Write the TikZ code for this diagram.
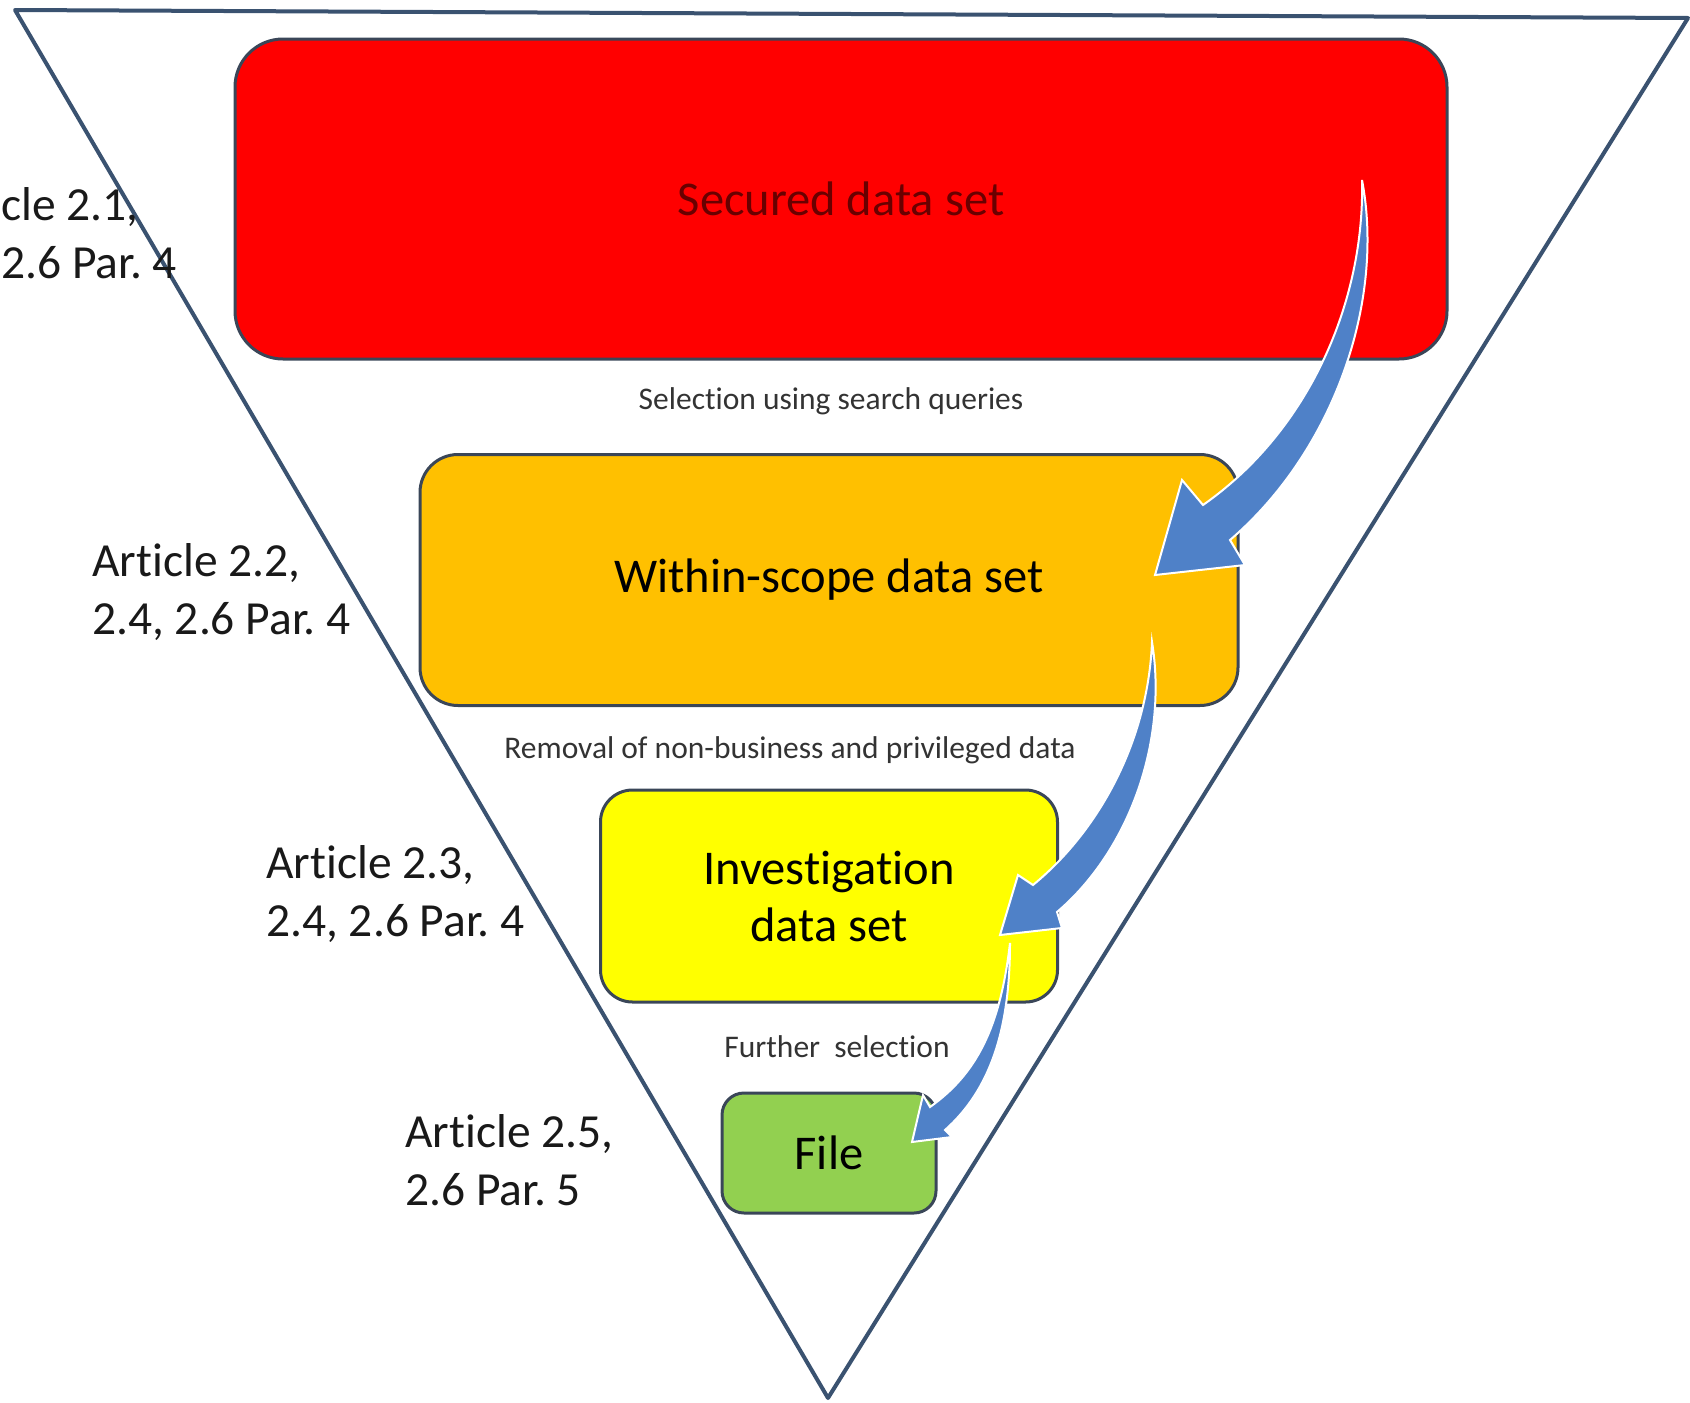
\documentclass[tikz,border=0pt]{standalone}
\usepackage{fontspec}
\setmainfont{Carlito}[Ligatures=NoCommon]
\usetikzlibrary{positioning}
\frenchspacing

\definecolor{securedred}{RGB}{255,0,0}
\definecolor{securedtext}{RGB}{105,0,0}
\definecolor{scopeorange}{RGB}{255,192,0}
\definecolor{investyellow}{RGB}{255,255,0}
\definecolor{filegreen}{RGB}{146,208,80}
\definecolor{boxline}{RGB}{58,70,88}
\definecolor{funnelline}{RGB}{58,82,112}
\definecolor{arrowblue}{RGB}{79,129,200}

\begin{document}
\begin{tikzpicture}[x=1pt,y=-1pt,
  stage/.style={draw=boxline,line width=3pt,align=center,font=\fontsize{48.5}{57}\selectfont},
  article/.style={anchor=west,align=left,inner sep=0pt,font=\fontsize{47.5}{58}\selectfont,text=black!90},
  filter/.style={font=\fontsize{31.5}{37}\selectfont,text=black!80},
  flow/.style={fill=arrowblue,draw=white,line width=2pt,line join=miter}]
\useasboundingbox (0,0) rectangle (1690,1403);

% Funnel
\draw[funnelline,line width=4pt,line join=round] (15,10) -- (1688,18) -- (828,1398) -- cycle;

% Data sets
\node[stage,fill=securedred,text=securedtext,minimum width=1212pt,minimum height=320pt,rounded corners=48pt] (secured) at (841,199) {Secured data set};
\node[stage,fill=scopeorange,minimum width=818pt,minimum height=251pt,rounded corners=38pt] (scope) at (829,580) {Within-scope data set};
\node[stage,fill=investyellow,minimum width=457pt,minimum height=212pt,rounded corners=32pt] (invest) at (829,896) {Investigation\\data set};
\node[stage,fill=filegreen,minimum width=214pt,minimum height=120pt,rounded corners=22pt] (file) at (829,1153) {File};

% Articles
\node[article] (art1) at (1,233) {cle 2.1,\\2.6 Par. 4};
\node[article] (art2) at (92,592) {Article 2.2,\\2.4, 2.6 Par. 4};
\node[article] (art3) at (266,894) {Article 2.3,\\2.4, 2.6 Par. 4};
\node[article] (art4) at (405,1160) {Article 2.5,\\2.6 Par. 5};

% Selection steps
\node[filter] (sel1) at (831,401) {Selection using search queries};
\node[filter] (sel2) at (790,750) {Removal of non-business and privileged data};
\node[filter] (sel3) at (837,1047) {Further\ \ selection};

% Curved arrows
\draw[flow] (1362,180) .. controls (1385,300) and (1335,450) .. (1230,540) -- (1245,565) -- (1155,575)
  -- (1182,480) -- (1203,505) .. controls (1310,430) and (1365,300) .. (1362,180) -- cycle;
\draw[flow] (1152,642) .. controls (1168,740) and (1130,850) .. (1057,912) -- (1062,928) -- (1000,935)
  -- (1018,875) -- (1033,885) .. controls (1100,830) and (1148,740) .. (1152,642) -- cycle;
\draw[flow] (1010,943) .. controls (1010,1030) and (990,1090) .. (945,1130) -- (952,1137) -- (912,1142)
  -- (923,1095) -- (930,1107) .. controls (975,1075) and (1000,1030) .. (1010,943) -- cycle;
\end{tikzpicture}
\end{document}
